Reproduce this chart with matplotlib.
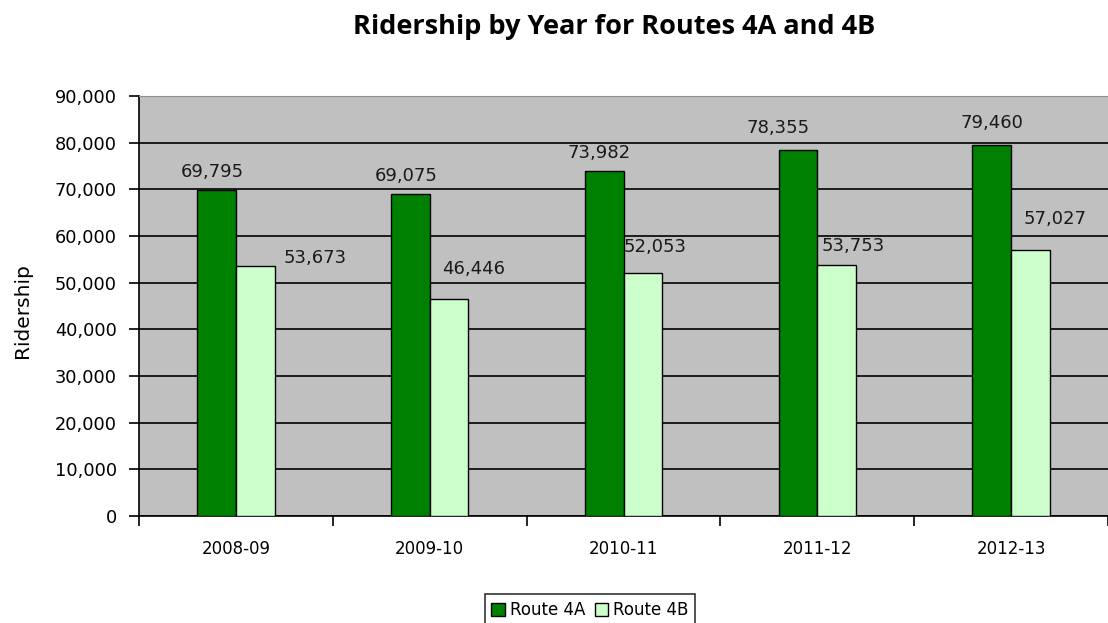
import matplotlib
matplotlib.use("Agg")
import matplotlib.pyplot as plt
import numpy as np

years = ["2008-09", "2009-10", "2010-11", "2011-12", "2012-13"]
route_4a = [69795, 69075, 73982, 78355, 79460]
route_4b = [53673, 46446, 52053, 53753, 57027]
y_ticks = [0, 10000, 20000, 30000, 40000, 50000, 60000, 70000, 80000, 90000]

# label offsets (pixels) to mimic the reference's manual placement
off_4a = [(-4, 18), (-4, 18), (-5, 18), (-20, 22), (0, 22)]
off_4b = [(60, 8), (24, 30), (12, 26), (17, 19), (25, 31)]

plt.rcParams['font.family'] = ['DejaVu Sans']
fig = plt.figure(figsize=(11.08, 6.23), dpi=100)
ax = fig.add_axes([139/1108, 1 - 516/623, 969/1108, 420/623])
ax.set_facecolor('#C0C0C0')

x = np.arange(len(years))
w = 0.2
b1 = ax.bar(x - w/2, route_4a, w, color='#008000', edgecolor='black', linewidth=1, zorder=3, label='Route 4A')
b2 = ax.bar(x + w/2, route_4b, w, color='#CCFFCC', edgecolor='black', linewidth=1, zorder=3, label='Route 4B')

for i in range(len(years)):
    ax.annotate(f"{route_4a[i]:,}", (x[i] - w/2, route_4a[i]), xytext=off_4a[i],
                textcoords='offset pixels', ha='center', va='center', fontsize=13, color='#1a1a1a')
    ax.annotate(f"{route_4b[i]:,}", (x[i] + w/2, route_4b[i]), xytext=off_4b[i],
                textcoords='offset pixels', ha='center', va='center', fontsize=13, color='#1a1a1a')

ax.set_xlim(-0.5, len(years) - 0.5)
ax.set_ylim(0, 90000)
ax.set_yticks(y_ticks)
ax.set_yticklabels([f"{v:,}" for v in y_ticks], fontsize=12.8)
ax.yaxis.grid(True, color='black', linewidth=1.2, zorder=1)
ax.set_axisbelow(True)

ax.set_xticks(x)
ax.set_xticklabels(years, fontsize=12)
ax.tick_params(axis='x', which='major', length=0, pad=17)
ax.set_xticks(np.arange(-0.5, len(years)), minor=True)
ax.tick_params(axis='x', which='minor', length=7, width=1.2, direction='out')
ax.tick_params(axis='y', length=7, width=1.2, direction='out', pad=9)

ax.spines['left'].set_linewidth(1.2)
ax.spines['bottom'].set_linewidth(1.2)
ax.spines['right'].set_visible(False)
ax.spines['top'].set_color('#909090')

fig.text(22/1108, 1 - 311/623, "Ridership", rotation=90, ha='center', va='center', fontsize=14.5)

fig.text(614/1108, 1 - 27/623, "Ridership by Year for Routes 4A and 4B", ha='center', va='center',
         fontsize=19.5, fontweight='bold', family=['Open Sans', 'DejaVu Sans'])

leg = fig.legend(handles=[b1, b2], loc='center', bbox_to_anchor=(590/1108, 1 - 610/623), ncol=2,
                 fontsize=12, frameon=True, fancybox=False, edgecolor='black',
                 handlelength=0.8, handleheight=0.8, handletextpad=0.3, columnspacing=0.6,
                 borderpad=0.4, borderaxespad=0)
leg.get_frame().set_linewidth(1.2)

fig.savefig("out.png", dpi=100)
